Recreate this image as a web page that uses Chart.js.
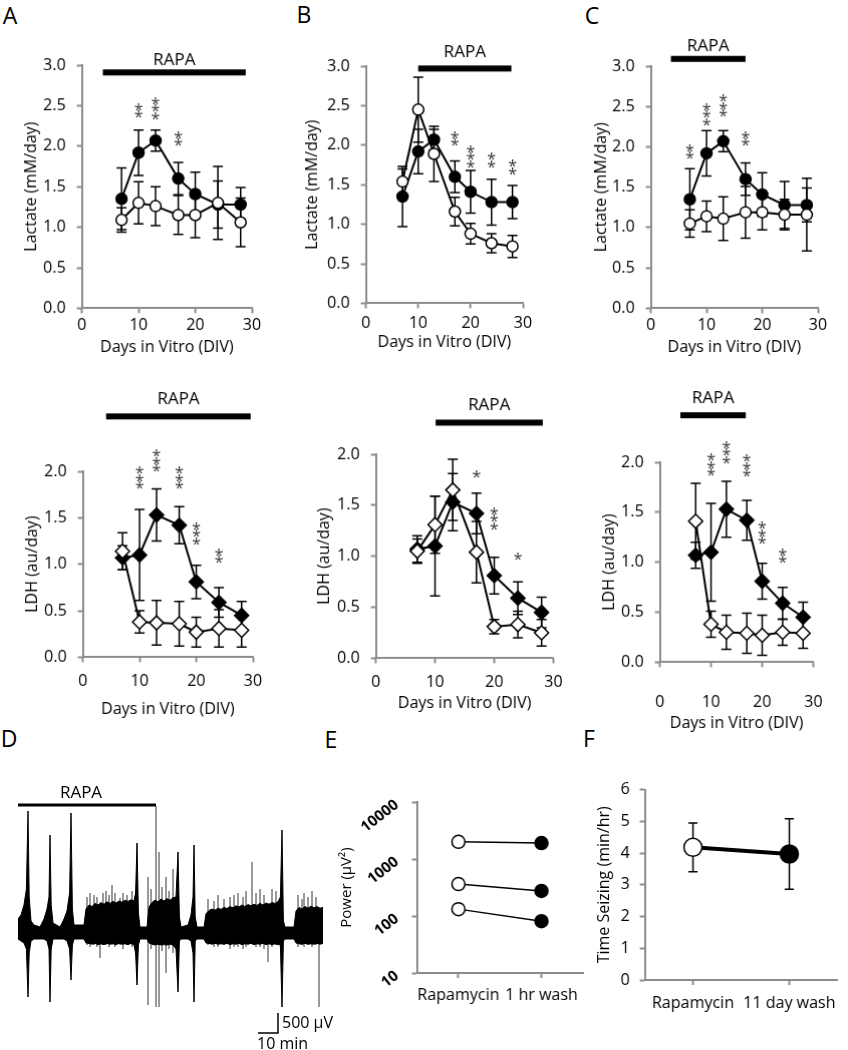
<!DOCTYPE html>
<html>
<head>
<meta charset="utf-8">
<script src="https://cdn.jsdelivr.net/npm/chart.js@4.4.1/dist/chart.umd.min.js"></script>
<style>
  body { margin: 0; background: #fff; width: 848px; height: 1050px; position: relative; overflow: hidden; font-family: 'Open Sans', sans-serif; }
  canvas { position: absolute; }
  .letter { position: absolute; font-size: 23px; line-height: 23px; transform: translate(-50%, -50%); color: #000; }
</style>
</head>
<body>
<div class="letter" style="left:10px;top:15px">A</div>
<div class="letter" style="left:304px;top:14px">B</div>
<div class="letter" style="left:592px;top:15px">C</div>
<div class="letter" style="left:9px;top:738px">D</div>
<div class="letter" style="left:331px;top:739px">E</div>
<div class="letter" style="left:589px;top:738px">F</div>
<script>
// sampling days (DIV)
const days = [7, 10, 13, 17, 20, 24, 28];

// lactate (mM/day): filled = control, open = rapamycin
const lacCtrl = [1.35, 1.92, 2.07, 1.60, 1.41, 1.28, 1.28];
const lacCtrlErr = [0.38, 0.28, 0.13, 0.20, 0.27, 0.29, 0.21];
const lacRapaA = [1.09, 1.30, 1.26, 1.15, 1.15, 1.30, 1.06];
const lacRapaAErr = [0.15, 0.26, 0.24, 0.24, 0.28, 0.45, 0.30];
const lacRapaB = [1.54, 2.45, 1.89, 1.16, 0.88, 0.76, 0.72];
const lacRapaBErr = [0.16, 0.41, 0.35, 0.18, 0.13, 0.12, 0.14];
const lacRapaC = [1.05, 1.14, 1.11, 1.19, 1.19, 1.16, 1.16];
const lacRapaCErr = [0.17, 0.19, 0.27, 0.32, 0.22, 0.19, 0.45];

// LDH (au/day)
const ldhCtrl = [1.07, 1.10, 1.53, 1.42, 0.81, 0.59, 0.45];
const ldhCtrlErr = [0.13, 0.49, 0.28, 0.20, 0.18, 0.16, 0.15];
const ldhRapaA = [1.14, 0.38, 0.37, 0.36, 0.27, 0.31, 0.29];
const ldhRapaAErr = [0.20, 0.12, 0.24, 0.24, 0.16, 0.20, 0.18];
const ldhRapaB = [1.05, 1.31, 1.65, 1.04, 0.31, 0.33, 0.25];
const ldhRapaBErr = [0.12, 0.28, 0.30, 0.30, 0.07, 0.13, 0.13];
const ldhRapaC = [1.41, 0.38, 0.30, 0.29, 0.27, 0.30, 0.29];
const ldhRapaCErr = [0.38, 0.13, 0.17, 0.20, 0.20, 0.13, 0.15];

// rapamycin windows (DIV) and significance marks
const rapaLacA = [3.7, 28.9], rapaLacB = [10, 27.8], rapaLacC = [3.6, 17];
const rapaLdhA = [4.1, 29.6], rapaLdhB = [10.1, 28.2], rapaLdhC = [4.0, 16.8];
const starsLacA = { x: [10, 13, 17], y: [2.45, 2.48, 2.10], n: [2, 3, 2] };
const starsLacB = { x: [17, 20, 24, 28], y: [2.09, 1.87, 1.82, 1.73], n: [2, 3, 2, 2] };
const starsLacC = { x: [7, 10, 13, 17], y: [1.95, 2.41, 2.52, 2.11], n: [2, 3, 3, 2] };
const starsLdhA = { x: [10, 13, 17, 20, 24], y: [1.94, 2.12, 1.94, 1.34, 1.10], n: [3, 3, 3, 3, 2] };
const starsLdhB = { x: [17, 20, 24], y: [1.81, 1.38, 1.01], n: [1, 3, 1] };
const starsLdhC = { x: [10, 13, 17, 20, 24], y: [1.98, 2.11, 1.97, 1.30, 1.07], n: [3, 3, 3, 3, 2] };

// D: recording envelope (min, uV)
const traceT = [0, 1.5, 3, 4.2, 5, 5.6, 6.5, 8, 11, 13, 14.5, 15.5, 16, 16.6, 17.5, 21, 23, 24.5, 25.8, 26.5, 27.2, 28,
  33, 34, 35.5, 37, 38.5, 40, 41.5, 43, 44.5, 46, 47.5, 49, 50.5, 52, 53.5, 55, 56.5, 58, 58.8, 59.5, 60.2, 61,
  64.5, 65.5, 67, 68.5, 70, 71.5, 73, 74.5, 76, 77.5, 79, 80, 80.7,
  81.5, 85, 86.5, 87.5, 88, 88.6, 89.5, 93, 94, 95.5, 97, 98.5, 100, 101.5, 103, 104.5, 106, 107.5, 109, 110.5, 112, 113.5, 115,
  116.5, 118, 119.5, 121, 122.5, 124, 125.5, 127, 128.5, 130, 131.2, 132, 132.7,
  133.5, 138, 139, 140.5, 142, 143.5, 145, 146.5, 148, 149.5, 151, 152.5];
const traceTop = [350, 450, 700, 1100, 3050, 900, 300, 200, 150, 350, 600, 900, 2450, 700, 250, 150, 350, 550, 1000, 3000, 600, 200,
  200, 600, 700, 660, 740, 700, 760, 720, 780, 740, 790, 750, 800, 770, 820, 790, 830, 800, 1000, 2250, 500, 150,
  150, 650, 760, 820, 780, 850, 800, 860, 820, 880, 900, 2025, 400,
  150, 200, 450, 900, 2200, 400, 150, 150, 480, 560, 600, 570, 620, 590, 640, 610, 660, 630, 680, 650, 700, 660, 710,
  680, 720, 690, 740, 700, 750, 720, 760, 740, 780, 900, 2575, 300,
  150, 150, 550, 640, 600, 660, 620, 670, 630, 660, 620, 640];
const traceBot = [-150, -200, -250, -400, -1600, -500, -200, -150, -150, -150, -200, -400, -1725, -400, -150, -150, -150, -200, -400, -1175, -300, -150,
  -150, -250, -260, -280, -260, -290, -270, -290, -260, -280, -270, -290, -260, -280, -270, -290, -260, -300, -500, -1300, -300, -150,
  -150, -250, -280, -300, -280, -300, -290, -300, -280, -300, -400, -1475, -200,
  -150, -150, -200, -500, -1725, -200, -150, -150, -250, -260, -280, -260, -280, -270, -280, -260, -290, -270, -280, -260, -290, -270, -280,
  -260, -290, -270, -280, -260, -290, -270, -290, -270, -290, -300, -1850, -200,
  -150, -150, -250, -270, -280, -260, -280, -270, -280, -260, -280, -260];
const spikeT = [34.5, 36, 38, 39.5, 41, 42.5, 44, 45.5, 47, 48.5, 51, 52.5, 54.5, 57, 65, 66.5, 69, 70.5, 72, 74, 75.5, 77.5,
  95, 98, 100, 103, 106, 108, 110, 112.5, 114, 117, 119, 121, 123, 125, 127, 129, 140, 142, 143, 145, 147, 149, 150.5];
const spikeTop = [900, 1000, 950, 900, 150, 1000, 1050, 950, 1200, 1000, 875, 1000, 950, 1050, 1400, 1100, 3175, 2025, 1150, 1400, 1050, 1600,
  850, 800, 950, 850, 900, 950, 1000, 900, 1050, 1775, 1000, 1100, 950, 200, 1100, 1050, 950, 850, 1000, 900, 1050, 900, 300];
const spikeBot = [-300, -350, -300, -350, -625, -300, -300, -350, -250, -350, -300, -400, -300, -350, -1800, -400, -1850, -1850, -450, -1000, -400, -500,
  -300, -350, -350, -300, -400, -350, -350, -400, -350, -250, -350, -350, -400, -725, -350, -300, -350, -300, -350, -300, -350, -300, -1850];
const rapaTrace = [0, 69];

// E: seizure power (uV^2), F: time seizing (min/hr)
const powerLabels = ['Rapamycin', '1 hr wash'];
const powerRapa = [2000, 363, 132];
const powerWash = [1900, 275, 81];
const powerTicks = [10, 100, 1000, 10000];
const seizeLabels = ['Rapamycin', '11 day wash'];
const seizeMean = [4.18, 3.97];
const seizeErr = [0.77, 1.11];

const FONT = "'Open Sans', sans-serif";
const AXIS = '#8c8c8c';
const FS = 16;
const LH = FS * 1.2;
Chart.defaults.font.family = FONT;
Chart.defaults.font.size = FS;
Chart.defaults.color = '#000';

function addCanvas(x, y, w, h) {
  const c = document.createElement('canvas');
  c.width = w; c.height = h;
  c.style.left = x + 'px'; c.style.top = y + 'px';
  c.style.width = w + 'px'; c.style.height = h + 'px';
  document.body.appendChild(c);
  return c;
}
const pts = (xs, ys) => xs.map((x, i) => ({ x, y: ys[i] }));

function axisLook(extra) {
  return Object.assign({
    border: { color: AXIS, width: 2 },
    grid: { display: true, drawOnChartArea: false, drawTicks: true, tickLength: 5, tickWidth: 2, tickColor: AXIS, color: AXIS }
  }, extra);
}

const errbars = {
  id: 'errbars',
  beforeDatasetsDraw(chart) {
    const ctx = chart.ctx, ys = chart.scales.y;
    chart.data.datasets.forEach((ds, i) => {
      if (!ds.errors) return;
      const meta = chart.getDatasetMeta(i);
      const cap = ds.cap || 5;
      ctx.save();
      ctx.strokeStyle = '#000';
      ctx.lineWidth = 1.5;
      meta.data.forEach((pt, j) => {
        const d = ds.data[j];
        const v = typeof d === 'object' ? d.y : d;
        const e = ds.errors[j];
        const y1 = ys.getPixelForValue(v + e), y2 = ys.getPixelForValue(v - e);
        ctx.beginPath();
        ctx.moveTo(pt.x, y1); ctx.lineTo(pt.x, y2);
        ctx.moveTo(pt.x - cap, y1); ctx.lineTo(pt.x + cap, y1);
        ctx.moveTo(pt.x - cap, y2); ctx.lineTo(pt.x + cap, y2);
        ctx.stroke();
      });
      ctx.restore();
    });
  }
};

function makeDecor(cfg) {
  return {
    id: 'decor',
    afterDatasetsDraw(chart) {
      const ctx = chart.ctx, xs = chart.scales.x, ys = chart.scales.y;
      ctx.save();
      if (cfg.rapa) {
        const x1 = xs.getPixelForValue(cfg.rapa[0]), x2 = xs.getPixelForValue(cfg.rapa[1]);
        const y = ys.getPixelForValue(cfg.rapaY);
        ctx.fillStyle = '#000';
        ctx.fillRect(x1, y - cfg.thick / 2, x2 - x1, cfg.thick);
        ctx.font = '17px ' + FONT;
        ctx.textAlign = 'center';
        ctx.textBaseline = 'middle';
        ctx.fillText('RAPA', (x1 + x2) / 2 + (cfg.textDx || 0), y - cfg.gap);
      }
      if (cfg.stars) {
        ctx.font = '16px ' + FONT;
        ctx.fillStyle = '#333';
        ctx.textAlign = 'center';
        ctx.textBaseline = 'alphabetic';
        cfg.stars.x.forEach((sx, k) => {
          const px = xs.getPixelForValue(sx), py = ys.getPixelForValue(cfg.stars.y[k]);
          const n = cfg.stars.n[k];
          for (let m = 0; m < n; m++) ctx.fillText('*', px, py + (m - (n - 1) / 2) * 7.5 + 9);
        });
      }
      if (cfg.extra) cfg.extra(chart, ctx);
      ctx.restore();
    }
  };
}

function timeCourse(p) {
  const bx = p.yTitleX - LH / 2, by = p.top;
  const bw = p.right - bx, bh = p.xTitleY + LH / 2 - by;
  const [l, t, r, b] = p.area;
  const c = addCanvas(bx, by, bw, bh);
  const common = { borderColor: '#000', borderWidth: 2, pointBorderColor: '#000', pointBorderWidth: 1.5,
    pointStyle: p.marker, pointRadius: p.radius, fill: false, tension: 0, clip: false, cap: 5 };
  new Chart(c, {
    type: 'line',
    data: {
      datasets: [
        Object.assign({ data: pts(days, p.open), errors: p.openErr, pointBackgroundColor: '#fff' }, common),
        Object.assign({ data: pts(days, p.ctrl), errors: p.ctrlErr, pointBackgroundColor: '#000' }, common)
      ]
    },
    options: {
      responsive: false, animation: false, devicePixelRatio: 1,
      layout: { padding: { top: t - by, right: bx + bw - r, left: 0, bottom: 0 } },
      plugins: { legend: { display: false }, tooltip: { enabled: false } },
      scales: {
        x: axisLook({
          type: 'linear', min: 0, max: 30,
          ticks: { stepSize: 10, padding: p.xTick - 5 - LH / 2, maxRotation: 0 },
          title: { display: true, text: 'Days in Vitro (DIV)', padding: 0 },
          afterFit: s => { s.height = by + bh - b; }
        }),
        y: axisLook({
          min: 0, max: p.ymax,
          ticks: { stepSize: 0.5, padding: 11, callback: v => v.toFixed(1) },
          title: { display: true, text: p.ytitle, padding: 0 },
          afterFit: s => { s.width = l - bx; }
        })
      }
    },
    plugins: [errbars, makeDecor({ rapa: p.rapa, rapaY: p.rapaY, thick: 6, gap: p.gap, stars: p.stars })]
  });
}

// top row: lactate
timeCourse({ area: [82, 65, 252, 308], top: 35, right: 270, yTitleX: 32, xTitleY: 347, xTick: 17, ymax: 3,
  ytitle: 'Lactate (mM/day)', marker: 'circle', radius: 5.5, open: lacRapaA, openErr: lacRapaAErr, ctrl: lacCtrl, ctrlErr: lacCtrlErr,
  rapa: rapaLacA, rapaY: 2.91, gap: 12, stars: starsLacA });
timeCourse({ area: [366, 66, 523, 303], top: 30, right: 542, yTitleX: 313, xTitleY: 342, xTick: 20, ymax: 3,
  ytitle: 'Lactate (mM/day)', marker: 'circle', radius: 5.5, open: lacRapaB, openErr: lacRapaBErr, ctrl: lacCtrl, ctrlErr: lacCtrlErr,
  rapa: rapaLacB, rapaY: 2.97, gap: 16, stars: starsLacB });
timeCourse({ area: [651, 66, 818, 308], top: 25, right: 842, yTitleX: 602, xTitleY: 347, xTick: 17, ymax: 3,
  ytitle: 'Lactate (mM/day)', marker: 'circle', radius: 5.5, open: lacRapaC, openErr: lacRapaCErr, ctrl: lacCtrl, ctrlErr: lacCtrlErr,
  rapa: rapaLacC, rapaY: 3.09, gap: 13, stars: starsLacC });

// middle row: LDH
timeCourse({ area: [83, 471, 253, 657], top: 380, right: 272, yTitleX: 33, xTitleY: 709, xTick: 24, ymax: 2,
  ytitle: 'LDH (au/day)', marker: 'rectRot', radius: 7, open: ldhRapaA, openErr: ldhRapaAErr, ctrl: ldhCtrl, ctrlErr: ldhCtrlErr,
  rapa: rapaLdhA, rapaY: 2.59, gap: 17, stars: starsLdhA });
timeCourse({ area: [376, 454, 554, 658], top: 380, right: 572, yTitleX: 325, xTitleY: 703, xTick: 24, ymax: 2,
  ytitle: 'LDH (au/day)', marker: 'rectRot', radius: 7, open: ldhRapaB, openErr: ldhRapaBErr, ctrl: ldhCtrl, ctrlErr: ldhCtrlErr,
  rapa: rapaLdhB, rapaY: 2.31, gap: 17, stars: starsLdhB });
timeCourse({ area: [660, 462, 839, 662], top: 380, right: 848, yTitleX: 610, xTitleY: 723, xTick: 40, ymax: 2,
  ytitle: 'LDH (au/day)', marker: 'rectRot', radius: 7, open: ldhRapaC, openErr: ldhRapaCErr, ctrl: ldhCtrl, ctrlErr: ldhCtrlErr,
  rapa: rapaLdhC, rapaY: 2.47, gap: 17, stars: starsLdhC });

// D: recording trace
(function () {
  const c = addCanvas(0, 785, 345, 265);
  const spikes = [];
  spikeT.forEach((t, i) => spikes.push({ x: t, y: spikeTop[i] }, { x: t, y: spikeBot[i] }, { x: t, y: null }));
  const bar = [{ x: 120, y: -2500 }, { x: 130, y: -2500 }, { x: 130, y: -2000 }];
  new Chart(c, {
    type: 'line',
    data: {
      datasets: [
        { data: pts(traceT, traceTop), borderColor: '#000', backgroundColor: '#000', borderWidth: 1, pointRadius: 0, fill: '+1', tension: 0 },
        { data: pts(traceT, traceBot), borderColor: '#000', borderWidth: 1, pointRadius: 0, fill: false, tension: 0 },
        { data: bar, borderColor: '#000', borderWidth: 1.5, pointRadius: 0, fill: false },
        { data: spikes, borderColor: '#8c8c8c', borderWidth: 1, pointRadius: 0, fill: false, spanGaps: false }
      ]
    },
    options: {
      responsive: false, animation: false, devicePixelRatio: 1,
      layout: { padding: { left: 18, right: 22, top: 12, bottom: 3 } },
      plugins: { legend: { display: false }, tooltip: { enabled: false } },
      scales: {
        x: { type: 'linear', display: false, min: 0, max: 152.5 },
        y: { display: false, min: -2850, max: 3400 }
      }
    },
    plugins: [makeDecor({
      rapa: rapaTrace, rapaY: 3200, thick: 3, gap: 12, textDx: -6,
      extra: (chart, ctx) => {
        const xs = chart.scales.x, ys = chart.scales.y;
        ctx.fillStyle = '#000';
        ctx.font = '16px ' + FONT;
        ctx.textAlign = 'left';
        ctx.textBaseline = 'middle';
        ctx.fillText('500 \u00b5V', xs.getPixelForValue(130) + 4, ys.getPixelForValue(-2250));
        ctx.fillText('10 min', xs.getPixelForValue(120) - 1, ys.getPixelForValue(-2500) + 11);
      }
    })]
  });
})();

// E: power, log scale
(function () {
  const bx = 348 - LH / 2, by = 780, bw = 598 - bx, bh = 1012 - by;
  const area = [417, 802, 583, 973];
  const c = addCanvas(bx, by, bw, bh);
  const datasets = powerRapa.map((v, i) => ({
    data: [v, powerWash[i]], borderColor: '#000', borderWidth: 1.5, pointBorderColor: '#000', pointBorderWidth: 1.5,
    pointBackgroundColor: ['#fff', '#000'], pointRadius: 6.5, fill: false, clip: false
  }));
  new Chart(c, {
    type: 'line',
    data: { labels: powerLabels, datasets },
    options: {
      responsive: false, animation: false, devicePixelRatio: 1,
      layout: { padding: { top: area[1] - by, right: bx + bw - area[2], left: 0, bottom: 0 } },
      plugins: { legend: { display: false }, tooltip: { enabled: false } },
      scales: {
        x: axisLook({
          offset: true,
          ticks: { padding: 22 - 5 - LH / 2, maxRotation: 0, autoSkip: false, font: { size: 16 } },
          afterFit: s => { s.height = by + bh - area[3]; }
        }),
        y: axisLook({
          type: 'logarithmic', min: 10, max: 10000,
          afterBuildTicks: s => { s.ticks = powerTicks.map(v => ({ value: v })); },
          ticks: { display: false },
          title: { display: true, text: 'Power (\u00b5V\u00b2)', padding: 0, font: { size: 15 } },
          afterFit: s => { s.width = area[0] - bx; }
        })
      }
    },
    plugins: [makeDecor({
      extra: (chart, ctx) => {
        const ys = chart.scales.y;
        ctx.fillStyle = '#000';
        ctx.font = 'bold 15px ' + FONT;
        ctx.textAlign = 'right';
        ctx.textBaseline = 'middle';
        powerTicks.forEach(v => {
          ctx.save();
          ctx.translate(area[0] - 20 - bx, ys.getPixelForValue(v) + 1);
          ctx.rotate(-38 * Math.PI / 180);
          ctx.fillText(String(v), 0, 0);
          ctx.restore();
        });
      }
    })]
  });
})();

// F: time seizing
(function () {
  const bx = 605 - LH / 2, by = 770, bw = 848 - bx, bh = 1018 - by;
  const area = [645, 788, 839, 980];
  const c = addCanvas(bx, by, bw, bh);
  new Chart(c, {
    type: 'line',
    data: {
      labels: seizeLabels,
      datasets: [{
        data: seizeMean, errors: seizeErr, cap: 4.5, borderColor: '#000', borderWidth: 4, pointBorderColor: '#000', pointBorderWidth: 1.5,
        pointBackgroundColor: ['#fff', '#000'], pointRadius: 9, fill: false, clip: false
      }]
    },
    options: {
      responsive: false, animation: false, devicePixelRatio: 1,
      layout: { padding: { top: area[1] - by, right: bx + bw - area[2], left: 0, bottom: 0 } },
      plugins: { legend: { display: false }, tooltip: { enabled: false } },
      scales: {
        x: axisLook({
          offset: true,
          ticks: { padding: 23 - 5 - LH / 2, maxRotation: 0, autoSkip: false, font: { size: 16 } },
          afterFit: s => { s.height = by + bh - area[3]; }
        }),
        y: axisLook({
          min: 0, max: 6,
          ticks: { stepSize: 1, padding: 10 },
          title: { display: true, text: 'Time Seizing (min/hr)', padding: 0 },
          afterFit: s => { s.width = area[0] - bx; }
        })
      }
    },
    plugins: [errbars]
  });
})();
</script>
</body>
</html>
